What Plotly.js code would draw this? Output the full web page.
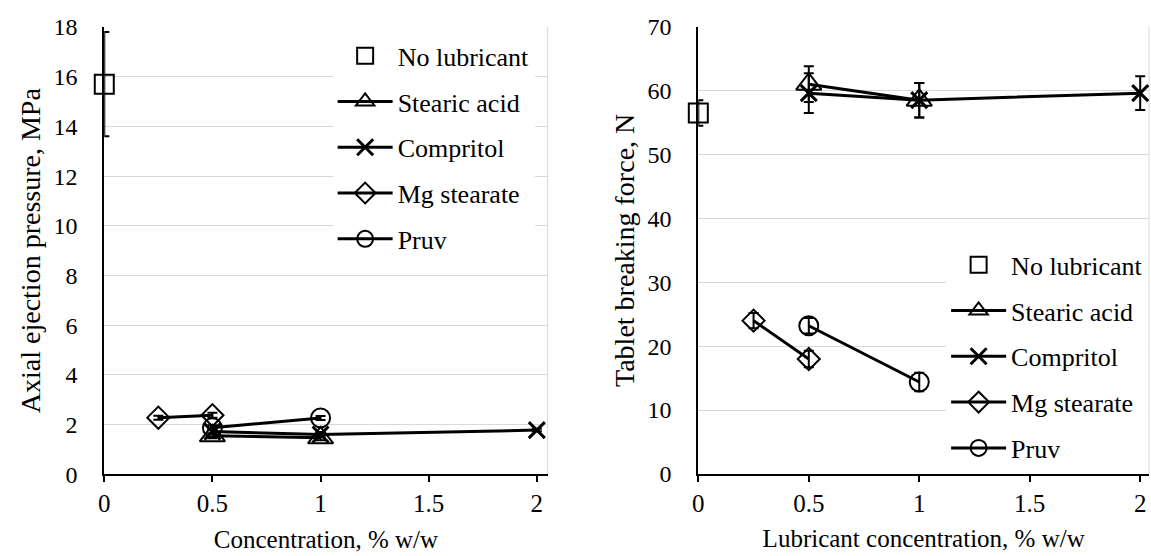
<!DOCTYPE html>
<html>
<head>
<meta charset="utf-8">
<script src="https://cdn.plot.ly/plotly-3.0.1.min.js"></script>
<style>html,body{margin:0;padding:0;background:#fff;}#chart{width:1151px;height:556px;}</style>
</head>
<body>
<div id="chart"></div>
<script>
// ---- Data ----
const tickVals = [0, 0.5, 1, 1.5, 2];
const tickText = ["0", "0.5", "1", "1.5", "2"];

// Left panel: axial ejection pressure (MPa)
const noLubX = [0];
const noLubEject = [15.7];
const noLubEjectErr = [2.1];
const stearicX = [0.5, 1];
const stearicEject = [1.55, 1.47];
const stearicEjectErr = [0.1, 0.1];
const compritolX = [0.5, 1, 2];
const compritolEject = [1.72, 1.6, 1.78];
const compritolEjectErr = [0.1, 0.1, 0.05];
const mgX = [0.25, 0.5];
const mgEject = [2.28, 2.38];
const mgEjectErr = [0.08, 0.1];
const pruvX = [0.5, 1];
const pruvEject = [1.87, 2.27];
const pruvEjectErr = [0.1, 0.08];

// Right panel: tablet breaking force (N)
const noLubForce = [56.5];
const noLubForceErr = [2.0];
const stearicForce = [61.0, 58.5];
const stearicForceErr = [2.8, 2.7];
const compritolForce = [59.6, 58.5, 59.6];
const compritolForceErr = [3.1, 2.7, 2.65];
const mgForce = [24.0, 18.0];
const mgForceErr = [1.2, 1.3];
const pruvForce = [23.2, 14.4];
const pruvForceErr = [1.2, 1.45];

const names = ["No lubricant", "Stearic acid", "Compritol", "Mg stearate", "Pruv"];

// ---- Styling ----
const FONT = "Liberation Serif, Times New Roman, serif";
const symbols = ["square-open", "triangle-up-open", "x-thin-open", "diamond-open", "circle-open"];
const sizes = [19, 22, 16, 17, 19];

function mk(i, x, y, err, xa, ya, leg) {
  return {
    type: "scatter",
    x: x, y: y,
    name: names[i],
    legend: leg,
    legendgroup: leg + i,
    mode: i === 0 ? "markers" : "lines+markers",
    line: {color: "black", width: 3},
    marker: {symbol: symbols[i], size: sizes[i], color: "black", line: {color: "black", width: i === 2 ? 3 : 2}},
    error_y: {type: "data", array: err, visible: true, color: "black", thickness: 2, width: 5},
    xaxis: xa, yaxis: ya,
    cliponaxis: false
  };
}

const traces = [
  mk(0, noLubX, noLubEject, noLubEjectErr, "x", "y", "legend"),
  mk(1, stearicX, stearicEject, stearicEjectErr, "x", "y", "legend"),
  mk(2, compritolX, compritolEject, compritolEjectErr, "x", "y", "legend"),
  mk(3, mgX, mgEject, mgEjectErr, "x", "y", "legend"),
  mk(4, pruvX, pruvEject, pruvEjectErr, "x", "y", "legend"),
  mk(0, noLubX, noLubForce, noLubForceErr, "x2", "y2", "legend2"),
  mk(1, stearicX, stearicForce, stearicForceErr, "x2", "y2", "legend2"),
  mk(2, compritolX, compritolForce, compritolForceErr, "x2", "y2", "legend2"),
  mk(3, mgX, mgForce, mgForceErr, "x2", "y2", "legend2"),
  mk(4, pruvX, pruvForce, pruvForceErr, "x2", "y2", "legend2")
];

function xAxis(domain, range, title, anchor) {
  return {
    domain: domain, range: range, anchor: anchor,
    tickmode: "array", tickvals: tickVals, ticktext: tickText,
    ticks: "outside", ticklen: 6, tickwidth: 2, tickcolor: "black",
    showline: true, linecolor: "black", linewidth: 2,
    showgrid: false, zeroline: false,
    tickfont: {family: FONT, size: 25, color: "black"},
    title: {text: title, font: {family: FONT, size: 25, color: "black"}, standoff: 14}
  };
}
function yAxis(domain, range, dtick, title, anchor) {
  return {
    domain: domain, range: range, anchor: anchor, dtick: dtick, tick0: 0,
    ticks: "", showline: true, linecolor: "black", linewidth: 2,
    showgrid: true, gridcolor: "#d9d9d9", gridwidth: 1, zeroline: false,
    tickfont: {family: FONT, size: 24, color: "black"}, ticklabelstandoff: 20,
    title: {text: title, font: {family: FONT, size: 28, color: "black"}, standoff: 5}
  };
}

const legendBase = {
  xanchor: "left", yanchor: "top", bgcolor: "white", borderwidth: 0,
  font: {family: FONT, size: 26, color: "black"},
  traceorder: "grouped", tracegroupgap: 9, itemwidth: 55
};

const layout = {
  width: 1151, height: 556,
  margin: {l: 0, r: 0, t: 0, b: 0},
  paper_bgcolor: "white", plot_bgcolor: "white",
  font: {family: FONT, color: "black"},
  xaxis: xAxis([0.0906, 0.4758], [0, 2.05], "Concentration, % w/w", "y"),
  yaxis: yAxis([0.1469, 0.9514], [0, 18], 2, "Axial ejection pressure, MPa", "x"),
  xaxis2: xAxis([0.6067, 0.9983], [0, 2.04], "Lubricant concentration, % w/w", "y2"),
  yaxis2: yAxis([0.1475, 0.952], [0, 70], 10, "Tablet breaking force, N", "x2"),
  legend: Object.assign({}, legendBase, {x: 0.289, y: 0.942}),
  legend2: Object.assign({}, legendBase, {x: 0.822, y: 0.566}),
  shapes: [
    {type: "line", xref: "x domain", yref: "y domain", x0: 1, x1: 1, y0: 0, y1: 1, line: {color: "#d9d9d9", width: 1}, layer: "below"},
    {type: "line", xref: "x2 domain", yref: "y2 domain", x0: 1, x1: 1, y0: 0, y1: 1, line: {color: "#d9d9d9", width: 1}, layer: "below"}
  ],
  showlegend: true
};

Plotly.newPlot("chart", traces, layout, {displayModeBar: false, staticPlot: true});
</script>
</body>
</html>
